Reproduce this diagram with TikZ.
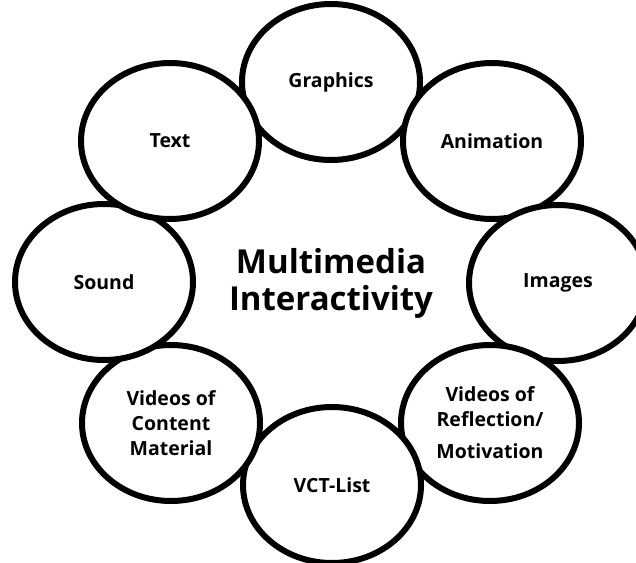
\documentclass[tikz,border=0pt]{standalone}
\usepackage{fontspec}
\setmainfont{Open Sans}
\usetikzlibrary{shapes.geometric}
\begin{document}
\begin{tikzpicture}[x=1pt,y=-1pt,
  bubble/.style={ellipse,draw=black,line width=6pt,fill=white,minimum width=178pt,minimum height=156pt,inner sep=0pt,align=center,font=\fontsize{19.5}{25}\selectfont\bfseries},
  ringline/.style={draw=black,line width=3pt}]
\useasboundingbox (0,0) rectangle (636,562);
\coordinate (g0) at (331,82);
\coordinate (a0) at (492,141);
\coordinate (i0) at (558,283);
\coordinate (r0) at (490,423);
\coordinate (v0) at (332,485);
\coordinate (c0) at (171,423);
\coordinate (s0) at (104,282);
\coordinate (t0) at (170,141);
\draw[ringline] (g0) -- (a0) -- (i0) -- (r0) -- (v0) -- (c0) -- (s0) -- (t0) -- cycle;
\node[bubble] (g) at (g0) {Graphics};
\node[bubble] (a) at (a0) {Animation};
\node[bubble] (i) at (i0) {Images};
\node[bubble] (r) at (r0) {Videos of\\Reflection/\\[7pt]Motivation};
\node[bubble] (v) at (v0) {VCT-List};
\node[bubble] (c) at (c0) {Videos of\\Content\\Material};
\node[bubble] (s) at (s0) {Sound};
\node[bubble] (t) at (t0) {Text};
\node[align=center,font=\fontsize{33}{37}\selectfont\bfseries] (m) at (331,283) {Multimedia\\Interactivity};
\end{tikzpicture}
\end{document}
